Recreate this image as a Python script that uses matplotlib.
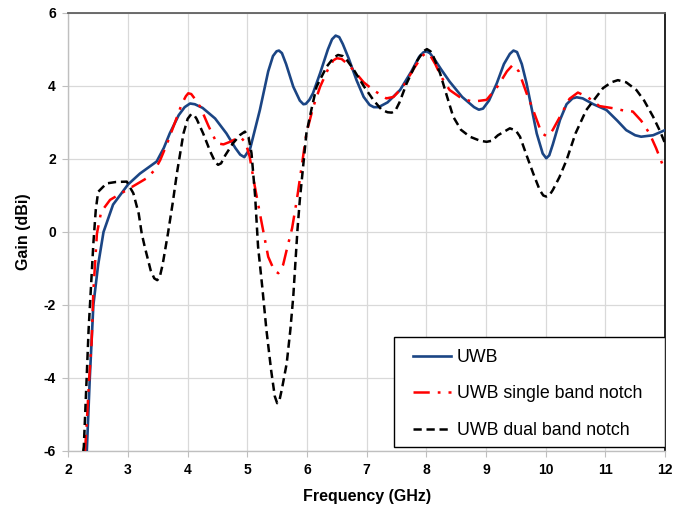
import numpy as np
import matplotlib
matplotlib.use("Agg")
import matplotlib.pyplot as plt
from matplotlib.patches import Rectangle

plt.rcParams['font.family'] = ['Liberation Sans', 'DejaVu Sans']
plt.rcParams['axes.unicode_minus'] = False

# UWB (solid blue)
uwb_f = [2.31, 2.36, 2.42, 2.50, 2.59, 2.75, 3.0, 3.2, 3.48, 3.6, 3.70, 3.85, 3.95, 4.04, 4.12,
         4.25, 4.46, 4.65, 4.8, 4.88, 4.95, 5.05, 5.21, 5.35, 5.43, 5.49, 5.53, 5.58, 5.65, 5.77,
         5.88, 5.94, 5.98, 6.04, 6.1, 6.22, 6.35, 6.42, 6.48, 6.54, 6.6, 6.7, 6.83, 6.95, 7.05,
         7.12, 7.2, 7.35, 7.56, 7.75, 7.88, 7.95, 8.0, 8.06, 8.15, 8.25, 8.39, 8.6, 8.8, 8.88,
         8.95, 9.05, 9.18, 9.3, 9.4, 9.46, 9.52, 9.6, 9.68, 9.85, 9.95, 10.01, 10.06, 10.12,
         10.24, 10.35, 10.45, 10.52, 10.62, 10.8, 11.02, 11.2, 11.35, 11.5, 11.6, 11.8, 12.0]
uwb_g = [-6.0, -4.0, -2.0, -0.9, 0.0, 0.75, 1.3, 1.6, 1.93, 2.3, 2.70, 3.2, 3.42, 3.52, 3.5,
         3.4, 3.11, 2.70, 2.3, 2.12, 2.05, 2.3, 3.34, 4.4, 4.82, 4.95, 4.97, 4.9, 4.6, 3.98,
         3.6, 3.5, 3.51, 3.62, 3.8, 4.35, 5.0, 5.28, 5.38, 5.34, 5.15, 4.75, 4.16, 3.7, 3.48,
         3.42, 3.42, 3.55, 3.89, 4.4, 4.8, 4.92, 4.95, 4.9, 4.7, 4.45, 4.12, 3.7, 3.42, 3.35,
         3.38, 3.6, 4.07, 4.6, 4.88, 4.97, 4.93, 4.6, 4.07, 2.70, 2.15, 2.02, 2.1, 2.4,
         3.07, 3.5, 3.66, 3.69, 3.66, 3.5, 3.34, 3.05, 2.79, 2.65, 2.61, 2.65, 2.79]

# UWB single band notch (red dash-dot)
single_f = [2.28, 2.31, 2.35, 2.39, 2.42, 2.48, 2.55, 2.70, 2.98, 3.31, 3.45, 3.54, 3.65,
            3.76, 3.9, 3.97, 4.01, 4.06, 4.12, 4.21, 4.35, 4.49, 4.6, 4.71, 4.88, 4.97,
            5.04, 5.12, 5.21, 5.35, 5.45, 5.52, 5.6, 5.66, 5.75, 5.83, 5.92, 5.99, 6.1,
            6.22, 6.35, 6.44, 6.50, 6.58, 6.68, 6.77, 6.95, 7.11, 7.33, 7.45, 7.61, 7.8,
            7.93, 7.99, 8.06, 8.15, 8.25, 8.39, 8.6, 8.78, 9.01, 9.2, 9.35, 9.45, 9.55,
            9.68, 9.79, 9.9, 9.96, 10.01, 10.07, 10.12, 10.24, 10.4, 10.54, 10.7, 10.9,
            11.13, 11.3, 11.46, 11.6, 11.74, 11.85, 11.96, 12.0]
single_g = [-6.0, -5.2, -4.0, -3.05, -1.6, -0.04, 0.55, 0.88, 1.15, 1.47, 1.7, 1.97, 2.4,
            2.88, 3.5, 3.72, 3.80, 3.78, 3.65, 3.43, 2.9, 2.43, 2.4, 2.47, 2.61, 2.45,
            2.06, 1.3, 0.51, -0.68, -1.05, -1.13, -0.9, -0.49, 0.1, 0.88, 1.9, 2.70, 3.4,
            3.98, 4.45, 4.7, 4.76, 4.74, 4.6, 4.45, 4.1, 3.89, 3.66, 3.7, 3.98, 4.5,
            4.82, 4.90, 4.85, 4.6, 4.25, 3.89, 3.65, 3.57, 3.62, 4.0, 4.4, 4.58, 4.4,
            3.8, 3.34, 2.85, 2.68, 2.63, 2.68, 2.8, 3.16, 3.65, 3.82, 3.7, 3.45,
            3.39, 3.33, 3.30, 3.05, 2.70, 2.3, 1.84, 1.75]

# UWB dual band notch (black dashed)
dual_f = [2.25, 2.26, 2.30, 2.34, 2.38, 2.42, 2.46, 2.50, 2.64, 2.80, 2.98, 3.09, 3.18,
          3.23, 3.28, 3.38, 3.44, 3.49, 3.53, 3.58, 3.67, 3.75, 3.82, 3.93, 4.0, 4.06, 4.11,
          4.15, 4.26, 4.38, 4.46, 4.51, 4.56, 4.63, 4.76, 4.88, 4.96, 5.02, 5.07, 5.13, 5.18,
          5.25, 5.32, 5.40, 5.46, 5.50, 5.54, 5.58, 5.66, 5.72, 5.77, 5.84, 5.88, 5.99, 6.08,
          6.16, 6.33, 6.45, 6.52, 6.6, 6.65, 6.77, 6.95, 7.11, 7.25, 7.35, 7.42, 7.48, 7.55,
          7.67, 7.85, 7.95, 8.01, 8.07, 8.12, 8.23, 8.34, 8.45, 8.58, 8.73, 8.9, 9.01, 9.1,
          9.2, 9.40, 9.50, 9.57, 9.68, 9.79, 9.9, 9.96, 10.01, 10.06, 10.12, 10.23, 10.35,
          10.5, 10.68, 10.96, 11.1, 11.21, 11.35, 11.52, 11.65, 11.80, 11.92, 12.0]
dual_g = [-6.0, -5.88, -4.3, -2.68, -1.5, -0.31, 0.6, 1.1, 1.33, 1.37, 1.38, 1.06, 0.5,
          -0.04, -0.40, -1.05, -1.27, -1.32, -1.25, -0.9, -0.04, 0.8, 1.61, 2.70, 3.1, 3.23,
          3.2, 3.1, 2.70, 2.2, 1.92, 1.84, 1.88, 2.1, 2.43, 2.66, 2.75, 2.6, 2.16, 1.0,
          -0.40, -1.5, -2.68, -3.8, -4.5, -4.69, -4.6, -4.3, -3.60, -2.7, -1.77, 0.05, 0.88,
          2.70, 3.4, 3.98, 4.53, 4.78, 4.85, 4.82, 4.75, 4.48, 4.0, 3.62, 3.35, 3.28, 3.27,
          3.32, 3.55, 4.07, 4.7, 4.95, 5.01, 4.95, 4.8, 4.35, 3.75, 3.16, 2.8, 2.61, 2.5,
          2.47, 2.5, 2.65, 2.84, 2.78, 2.61, 2.1, 1.61, 1.15, 1.0, 0.97, 1.0, 1.15, 1.5,
          1.97, 2.7, 3.34, 3.94, 4.1, 4.16, 4.1, 3.89, 3.6, 3.16, 2.75, 2.43]

x_ticks = list(range(2, 13))
y_ticks = list(range(-6, 7, 2))

fig = plt.figure(figsize=(6.75, 5.15), dpi=100)
ax = fig.add_axes([0.1012, 0.1243, 0.8840, 0.8505])

ax.plot(uwb_f, uwb_g, color='#1b4584', lw=1.9, label='UWB', zorder=3)
ax.plot(single_f, single_g, color='#ff0000', lw=1.8, dashes=(6.5, 3.2, 1.1, 3.2),
        label='UWB single band notch', zorder=4)
ax.plot(dual_f, dual_g, color='black', lw=1.8, dashes=(3.3, 1.9),
        label='UWB dual band notch', zorder=5)

ax.set_xlim(2, 12)
ax.set_ylim(-6, 6)
ax.set_xticks(x_ticks)
ax.set_yticks(y_ticks)
ax.grid(True, color='#d9d9d9', lw=0.9)
ax.set_axisbelow(True)

for side in ['left', 'bottom']:
    ax.spines[side].set_color('#bfbfbf')
    ax.spines[side].set_linewidth(1.0)
ax.spines['top'].set_color('#606060')
ax.spines['top'].set_linewidth(1.3)
ax.spines['right'].set_color('black')
ax.spines['right'].set_linewidth(1.2)

ax.tick_params(axis='both', length=4, width=0.8, color='#bfbfbf', labelsize=10, pad=5)
for lab in ax.get_xticklabels() + ax.get_yticklabels():
    lab.set_fontweight('bold')

ax.set_xlabel('Frequency (GHz)', fontsize=11.5, fontweight='bold', labelpad=8)
ax.set_ylabel('Gain (dBi)', fontsize=11.5, fontweight='bold', labelpad=9)

# legend box drawn separately so the padding matches the reference
box = Rectangle((0.5463, 0.0084), 0.4537, 0.2512, transform=ax.transAxes,
                facecolor='white', edgecolor='black', lw=1.0, zorder=9)
ax.add_patch(box)
leg = ax.legend(loc='upper left', bbox_to_anchor=(0.578, 0.233),
                fontsize=12.8, frameon=False, handlelength=2.15, handletextpad=0.3,
                labelspacing=1.1, borderpad=0.0, borderaxespad=0.0)
leg.set_zorder(10)

fig.savefig('out.png', dpi=100, facecolor='white')
